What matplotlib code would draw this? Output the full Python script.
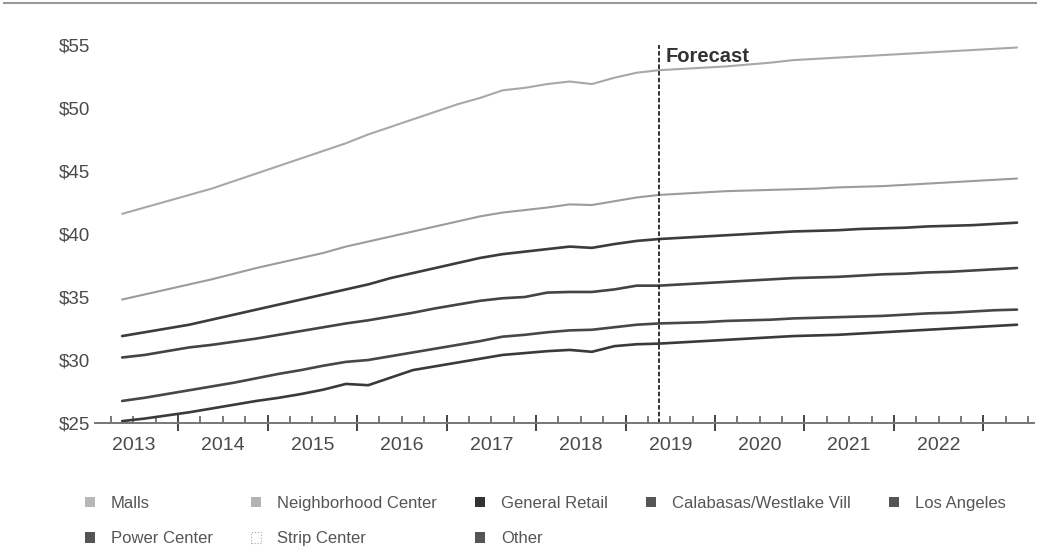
import matplotlib
matplotlib.use("Agg")
import matplotlib.pyplot as plt
from matplotlib.patches import Patch
from matplotlib.lines import Line2D
import numpy as np
import pandas as pd

plt.rcParams['font.family'] = ['Liberation Sans', 'DejaVu Sans']

# Квартальные ряды арендных ставок, 2013Q2 - 2023Q2
quarters = pd.period_range('2013Q2', '2023Q2', freq='Q')
forecast_start = pd.Period('2019Q2', freq='Q')
years = list(range(2013, 2023))

malls = [41.6, 42.1, 42.6, 43.1, 43.6, 44.2, 44.8, 45.4, 46.0, 46.6,
         47.2, 47.9, 48.5, 49.1, 49.7, 50.3, 50.8, 51.4, 51.6, 51.9,
         52.1, 51.9, 52.4, 52.8, 53.0, 53.1, 53.2, 53.3, 53.45, 53.6,
         53.8, 53.9, 54.0, 54.1, 54.2, 54.3, 54.4, 54.5, 54.6, 54.7, 54.8]
neighborhood = [34.8, 35.2, 35.6, 36.0, 36.4, 36.85, 37.3, 37.7, 38.1, 38.5,
                39.0, 39.4, 39.8, 40.2, 40.6, 41.0, 41.4, 41.7, 41.9, 42.1,
                42.35, 42.3, 42.6, 42.9, 43.1, 43.2, 43.3, 43.4, 43.45, 43.5,
                43.55, 43.6, 43.7, 43.75, 43.8, 43.9, 44.0, 44.1, 44.2, 44.3, 44.4]
general_retail = [31.9, 32.2, 32.5, 32.8, 33.2, 33.6, 34.0, 34.4, 34.8, 35.2,
                  35.6, 36.0, 36.5, 36.9, 37.3, 37.7, 38.1, 38.4, 38.6, 38.8,
                  39.0, 38.9, 39.2, 39.45, 39.6, 39.7, 39.8, 39.9, 40.0, 40.1,
                  40.2, 40.25, 40.3, 40.4, 40.45, 40.5, 40.6, 40.65, 40.7, 40.8, 40.9]
calabasas = [30.2, 30.4, 30.7, 31.0, 31.2, 31.45, 31.7, 32.0, 32.3, 32.6,
             32.9, 33.15, 33.45, 33.75, 34.1, 34.4, 34.7, 34.9, 35.0, 35.35,
             35.4, 35.4, 35.6, 35.9, 35.9, 36.0, 36.1, 36.2, 36.3, 36.4,
             36.5, 36.55, 36.6, 36.7, 36.8, 36.85, 36.95, 37.0, 37.1, 37.2, 37.3]
los_angeles = [26.75, 27.0, 27.3, 27.6, 27.9, 28.2, 28.55, 28.9, 29.2, 29.55,
               29.85, 30.0, 30.3, 30.6, 30.9, 31.2, 31.5, 31.85, 32.0, 32.2,
               32.35, 32.4, 32.6, 32.8, 32.9, 32.95, 33.0, 33.1, 33.15, 33.2,
               33.3, 33.35, 33.4, 33.45, 33.5, 33.6, 33.7, 33.75, 33.85, 33.95, 34.0]
power_center = [25.15, 25.35, 25.6, 25.85, 26.15, 26.45, 26.75, 27.0, 27.3, 27.65,
                28.1, 28.0, 28.6, 29.2, 29.5, 29.8, 30.1, 30.4, 30.55, 30.7,
                30.8, 30.65, 31.1, 31.25, 31.3, 31.4, 31.5, 31.6, 31.7, 31.8,
                31.9, 31.95, 32.0, 32.1, 32.2, 32.3, 32.4, 32.5, 32.6, 32.7, 32.8]

series = [
    ("Malls", malls, '#a8a8a8', 1.5),
    ("Neighborhood Center", neighborhood, '#9c9c9c', 1.5),
    ("General Retail", general_retail, '#3c3c3c', 1.9),
    ("Calabasas/Westlake Vill", calabasas, '#444444', 1.9),
    ("Los Angeles", los_angeles, '#474747', 1.9),
    ("Power Center", power_center, '#3a3a3a', 1.9),
]

legend_labels = ["Malls", "Power Center", "Neighborhood Center", "Strip Center",
                 "General Retail", "Other", "Calabasas/Westlake Vill", "Los Angeles"]
legend_colors = ['#b8b8b8', '#555555', '#b3b3b3', 'white',
                 '#333333', '#555555', '#555555', '#555555']


def qpos(p):
    # номер квартала от начала 2013 года
    return (p.year - 2013) * 4 + (p.quarter - 1)


x = np.array([qpos(p) for p in quarters])

fig = plt.figure(figsize=(10.37, 5.52), dpi=100)
ax = fig.add_axes([0.0919, 0.2337, 0.905, 0.6962])

for name, vals, color, lw in series:
    ax.plot(x, vals, color=color, lw=lw, solid_capstyle='round')

# линия начала прогноза
fx = qpos(forecast_start)
ax.vlines(fx, 25, 55, colors='#222222', lw=1.3, linestyles=(0, (2.5, 1.2)))
ax.annotate("Forecast", xy=(fx, 54.1), xytext=(5, 0), textcoords='offset points',
            va='center', ha='left', fontsize=14.5, fontweight='bold', color='#333333')

ax.set_xlim(-0.2, 41.75)
ax.set_ylim(25, 55.5)

ax.set_yticks([25, 30, 35, 40, 45, 50, 55])
ax.set_yticklabels(["$%d" % v for v in [25, 30, 35, 40, 45, 50, 55]])
ax.tick_params(axis='y', length=0, pad=4, labelsize=13.5, labelcolor='#4a4a4a')

# деления по границам лет и кварталов
ax.set_xticks(np.arange(3.5, 42, 4))
ax.set_xticklabels([])
ax.set_xticks([b for b in np.arange(0.5, 42, 1) if (b - 3.5) % 4 != 0], minor=True)
ax.tick_params(axis='x', which='major', direction='inout', length=12, width=1.4, color='#444444')
ax.tick_params(axis='x', which='minor', direction='in', length=5, width=1.1, color='#555555')

for yr in years:
    ax.annotate(str(yr), xy=((yr - 2013) * 4 + 1.5, 0), xycoords=('data', 'axes fraction'),
                xytext=(0, -16), textcoords='offset points', ha='center', va='center',
                fontsize=14, color='#4a4a4a')

for s in ['top', 'right', 'left']:
    ax.spines[s].set_visible(False)
ax.spines['bottom'].set_color('#777777')
ax.spines['bottom'].set_linewidth(1.4)

handles = []
for lab, col in zip(legend_labels, legend_colors):
    if lab == "Strip Center":
        handles.append(Patch(facecolor='white', edgecolor='#aaaaaa', linestyle=':', lw=0.8))
    else:
        handles.append(Patch(facecolor=col, edgecolor='none'))
fig.legend(handles, legend_labels, loc='upper left', bbox_to_anchor=(85 / 1037, 1 - 496 / 552),
           ncol=5, frameon=False, fontsize=12, labelcolor='#555555',
           handlelength=0.6, handleheight=0.6, handletextpad=0.95,
           columnspacing=2.3, labelspacing=1.22, borderpad=0, borderaxespad=0)

# серая линия вверху
fig.add_artist(Line2D([0.004, 1.0], [0.994, 0.994], color='#999999', lw=1.5))

fig.savefig("out.png", dpi=100)
